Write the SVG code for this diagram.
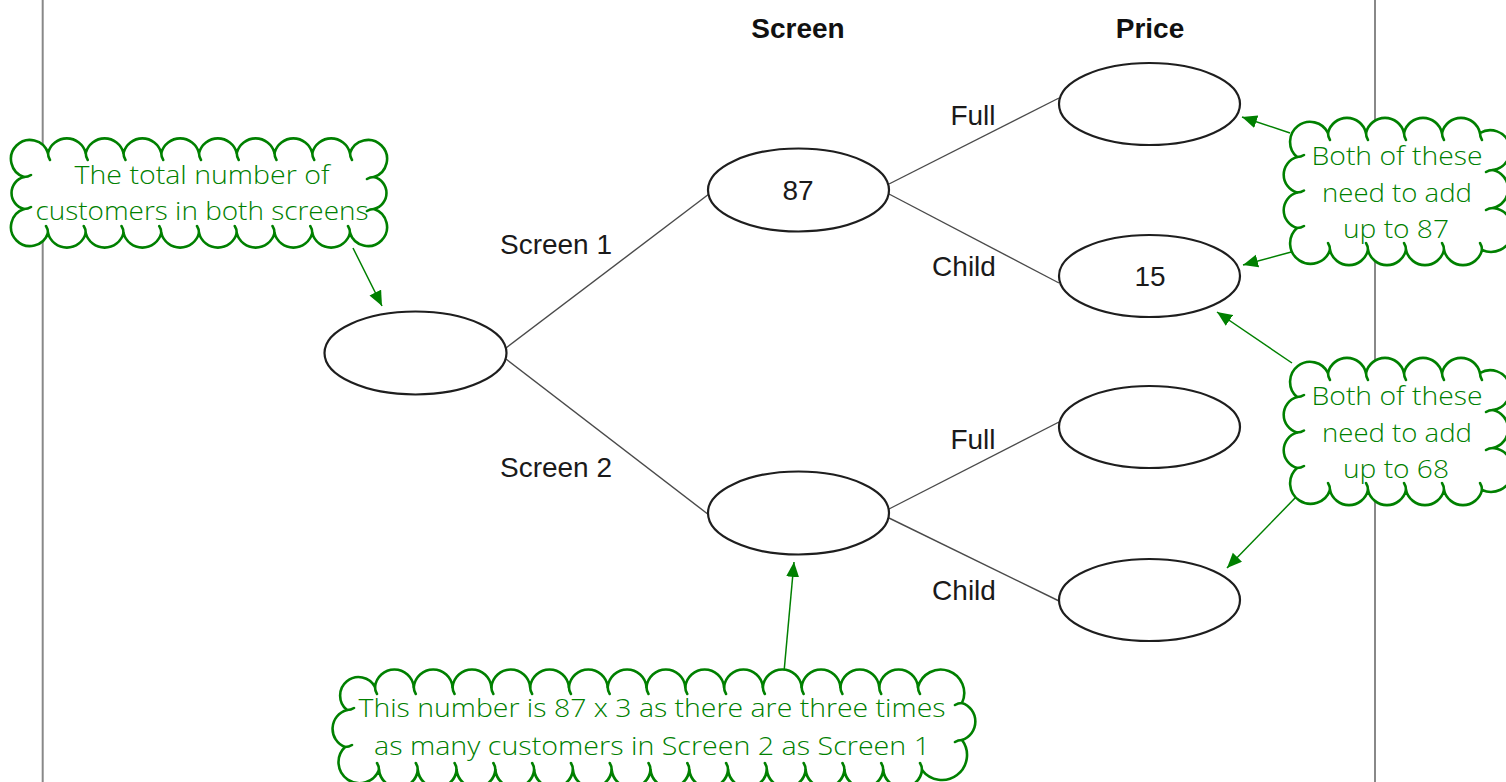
<svg xmlns="http://www.w3.org/2000/svg" width="1506" height="782" viewBox="0 0 1506 782">
<style>
.node{fill:#fff;stroke:#1e1e1e;stroke-width:2.2}
.edge{stroke:#4a4a4a;stroke-width:1.4;fill:none}
.lbl{font-family:"Liberation Sans",Arial,sans-serif;font-size:28px;fill:#1a1a1a;text-anchor:middle}
.hdr{font-family:"Liberation Sans",Arial,sans-serif;font-size:28px;font-weight:bold;fill:#111;text-anchor:middle}
.cloud{fill:#fff;stroke:#008000;stroke-width:2.6;stroke-linejoin:round}
.tail{fill:none;stroke:#008000;stroke-width:2.6;stroke-linecap:round}
.ctext{font-family:"Open Sans",Lato,sans-serif;font-weight:300;font-size:26px;fill:#008000;text-anchor:middle}
.arrow{stroke:#008000;stroke-width:1.5;fill:none;marker-end:url(#ah)}
.frame{stroke:#888;stroke-width:2}
</style>
<defs>
<marker id="ah" markerUnits="userSpaceOnUse" markerWidth="16" markerHeight="14" refX="15" refY="6.5" orient="auto">
<path d="M0,0 L15,6.5 L0,13 z" fill="#008000"/>
</marker>
</defs>
<rect width="1506" height="782" fill="#fff"/>
<g id="frame">
<line class="frame" x1="42.7" y1="0" x2="42.7" y2="782"/>
<line class="frame" x1="1375" y1="0" x2="1375" y2="782"/>
</g>
<g id="connectors">
<line class="edge" x1="506" y1="348" x2="709" y2="194"/>
<line class="edge" x1="506" y1="359" x2="709" y2="515"/>
<line class="edge" x1="889" y1="184" x2="1059" y2="98"/>
<line class="edge" x1="889" y1="194" x2="1059" y2="283"/>
<line class="edge" x1="889" y1="509" x2="1059" y2="422"/>
<line class="edge" x1="889" y1="518" x2="1059" y2="601"/>
<line class="arrow" x1="353" y1="248" x2="382" y2="306"/>
<line class="arrow" x1="1290" y1="133" x2="1242" y2="117"/>
<line class="arrow" x1="1295" y1="251" x2="1243" y2="265"/>
<line class="arrow" x1="1292" y1="363" x2="1217" y2="312"/>
<line class="arrow" x1="1297" y1="496" x2="1227" y2="568"/>
<line class="arrow" x1="784" y1="672" x2="794" y2="562"/>
</g>
<g id="edge-labels">
<text class="lbl" x="556" y="254">Screen 1</text>
<text class="lbl" x="556" y="477">Screen 2</text>
<text class="lbl" x="973" y="125">Full</text>
<text class="lbl" x="964" y="276">Child</text>
<text class="lbl" x="973" y="449">Full</text>
<text class="lbl" x="964" y="600">Child</text>
</g>
<g id="headers">
<text class="hdr" x="798" y="38">Screen</text>
<text class="hdr" x="1150" y="38">Price</text>
</g>
<g id="node-root"><ellipse class="node" cx="415.5" cy="353" rx="91" ry="41.5"/></g>
<g id="node-screen1"><ellipse class="node" cx="798.5" cy="190" rx="90.5" ry="41.5"/><text class="lbl" x="798" y="200">87</text></g>
<g id="node-screen2"><ellipse class="node" cx="798.5" cy="513" rx="90.5" ry="41.5"/></g>
<g id="node-full1"><ellipse class="node" cx="1149.5" cy="104" rx="90.5" ry="41"/></g>
<g id="node-child1"><ellipse class="node" cx="1149.5" cy="276" rx="90.5" ry="41"/><text class="lbl" x="1150" y="286">15</text></g>
<g id="node-full2"><ellipse class="node" cx="1149.5" cy="427" rx="90.5" ry="41"/></g>
<g id="node-child2"><ellipse class="node" cx="1149.5" cy="600" rx="90.5" ry="41"/></g>
<g id="cloud-total">
<path class="cloud" d="M48,153 a19.5 19.5 0 0 1 37.75 0 a19.5 19.5 0 0 1 37.75 0 a19.5 19.5 0 0 1 37.75 0 a19.5 19.5 0 0 1 37.75 0 a19.5 19.5 0 0 1 37.75 0 a19.5 19.5 0 0 1 37.75 0 a19.5 19.5 0 0 1 37.75 0 a19.5 19.5 0 0 1 37.75 0 a19 19 0 1 1 24 24 a16.5 16.5 0 0 1 0 32 a19 19 0 1 1 -24 24 a19.5 19.5 0 0 1 -37.75 0 a19.5 19.5 0 0 1 -37.75 0 a19.5 19.5 0 0 1 -37.75 0 a19.5 19.5 0 0 1 -37.75 0 a19.5 19.5 0 0 1 -37.75 0 a19.5 19.5 0 0 1 -37.75 0 a19.5 19.5 0 0 1 -37.75 0 a19.5 19.5 0 0 1 -37.75 0 a19 19 0 1 1 -24 -24 a16.5 16.5 0 0 1 0 -32 a19 19 0 1 1 24 -24 z"/>
<path class="tail" d="M48,153 q0 4 2 7 M85.75,153 q0 4 2 7 M123.5,153 q0 4 2 7 M161.25,153 q0 4 2 7 M199,153 q0 4 2 7 M236.75,153 q0 4 2 7 M274.5,153 q0 4 2 7 M312.25,153 q0 4 2 7 M350,153 q0 4 2 7 M374,177 q-4 0 -7 2 M374,209 q-4 0 -7 2 M350,233 q0 -4 -2 -7 M312.25,233 q0 -4 -2 -7 M274.5,233 q0 -4 -2 -7 M236.75,233 q0 -4 -2 -7 M199,233 q0 -4 -2 -7 M161.25,233 q0 -4 -2 -7 M123.5,233 q0 -4 -2 -7 M85.75,233 q0 -4 -2 -7 M48,233 q0 -4 -2 -7 M24,209 q4 0 7 -2 M24,177 q4 0 7 -2"/>
<text class="ctext" x="202" y="184" textLength="255" lengthAdjust="spacingAndGlyphs">The total number of</text>
<text class="ctext" x="202" y="220" textLength="333" lengthAdjust="spacingAndGlyphs">customers in both screens</text>
</g>
<g id="cloud-87">
<path class="cloud" d="M1328,133 a19.5 19.5 0 0 1 38 0 a19.5 19.5 0 0 1 38 0 a19.5 19.5 0 0 1 38 0 a19.5 19.5 0 0 1 38 0 a20 20 0 1 1 13 37 a19.5 19.5 0 0 1 0 38 a22 22 0 1 1 -11 42 a19.5 19.5 0 0 1 -38 0 a19.5 19.5 0 0 1 -38 0 a19.5 19.5 0 0 1 -38 0 a19.5 19.5 0 0 1 -38 0 a20.5 20.5 0 1 1 -33 -22 a18.5 18.5 0 0 1 0 -35.5 a18.5 18.5 0 0 1 0 -35.5 a20 20 0 1 1 31 -24 z"/>
<path class="tail" d="M1328,133 q0 4 2 7 M1366,133 q0 4 2 7 M1404,133 q0 4 2 7 M1442,133 q0 4 2 7 M1480,133 q0 4 2 7 M1493,170 q-4 0 -7 2 M1493,208 q-4 0 -7 2 M1482,250 q0 -4 -2 -7 M1444,250 q0 -4 -2 -7 M1406,250 q0 -4 -2 -7 M1368,250 q0 -4 -2 -7 M1330,250 q0 -4 -2 -7 M1297,228 q4 0 7 -2 M1297,192.5 q4 0 7 -2 M1297,157 q4 0 7 -2"/>
<text class="ctext" x="1397" y="165" textLength="171" lengthAdjust="spacingAndGlyphs">Both of these</text>
<text class="ctext" x="1397" y="202" textLength="150" lengthAdjust="spacingAndGlyphs">need to add</text>
<text class="ctext" x="1396" y="238" textLength="106" lengthAdjust="spacingAndGlyphs">up to 87</text>
</g>
<g id="cloud-68" transform="translate(0,240)">
<path class="cloud" d="M1328,133 a19.5 19.5 0 0 1 38 0 a19.5 19.5 0 0 1 38 0 a19.5 19.5 0 0 1 38 0 a19.5 19.5 0 0 1 38 0 a20 20 0 1 1 13 37 a19.5 19.5 0 0 1 0 38 a22 22 0 1 1 -11 42 a19.5 19.5 0 0 1 -38 0 a19.5 19.5 0 0 1 -38 0 a19.5 19.5 0 0 1 -38 0 a19.5 19.5 0 0 1 -38 0 a20.5 20.5 0 1 1 -33 -22 a18.5 18.5 0 0 1 0 -35.5 a18.5 18.5 0 0 1 0 -35.5 a20 20 0 1 1 31 -24 z"/>
<path class="tail" d="M1328,133 q0 4 2 7 M1366,133 q0 4 2 7 M1404,133 q0 4 2 7 M1442,133 q0 4 2 7 M1480,133 q0 4 2 7 M1493,170 q-4 0 -7 2 M1493,208 q-4 0 -7 2 M1482,250 q0 -4 -2 -7 M1444,250 q0 -4 -2 -7 M1406,250 q0 -4 -2 -7 M1368,250 q0 -4 -2 -7 M1330,250 q0 -4 -2 -7 M1297,228 q4 0 7 -2 M1297,192.5 q4 0 7 -2 M1297,157 q4 0 7 -2"/>
<text class="ctext" x="1397" y="165" textLength="171" lengthAdjust="spacingAndGlyphs">Both of these</text>
<text class="ctext" x="1397" y="202" textLength="150" lengthAdjust="spacingAndGlyphs">need to add</text>
<text class="ctext" x="1396" y="238" textLength="106" lengthAdjust="spacingAndGlyphs">up to 68</text>
</g>
<g id="cloud-screen2">
<path class="cloud" d="M375,687 a19.5 19.5 0 0 1 38.786 0 a19.5 19.5 0 0 1 38.786 0 a19.5 19.5 0 0 1 38.786 0 a19.5 19.5 0 0 1 38.786 0 a19.5 19.5 0 0 1 38.786 0 a19.5 19.5 0 0 1 38.786 0 a19.5 19.5 0 0 1 38.786 0 a19.5 19.5 0 0 1 38.786 0 a19.5 19.5 0 0 1 38.786 0 a19.5 19.5 0 0 1 38.786 0 a19.5 19.5 0 0 1 38.786 0 a19.5 19.5 0 0 1 38.786 0 a19.5 19.5 0 0 1 38.786 0 a19.5 19.5 0 0 1 38.786 0 a23.5 23.5 0 1 1 44 16 a19.5 19.5 0 0 1 0 37 a25 25 0 1 1 -40 30 a19.5 19.5 0 0 1 -38.786 0 a19.5 19.5 0 0 1 -38.786 0 a19.5 19.5 0 0 1 -38.786 0 a19.5 19.5 0 0 1 -38.786 0 a19.5 19.5 0 0 1 -38.786 0 a19.5 19.5 0 0 1 -38.786 0 a19.5 19.5 0 0 1 -38.786 0 a19.5 19.5 0 0 1 -38.786 0 a19.5 19.5 0 0 1 -38.786 0 a19.5 19.5 0 0 1 -38.786 0 a19.5 19.5 0 0 1 -38.786 0 a19.5 19.5 0 0 1 -38.786 0 a19.5 19.5 0 0 1 -38.786 0 a19.5 19.5 0 0 1 -38.786 0 a21 21 0 1 1 -34 -23 a19.5 19.5 0 0 1 2 -37 a18.5 18.5 0 1 1 28 -23 z"/>
<path class="tail" d="M375,687 q0 4 2 7 M413.79,687 q0 4 2 7 M452.57,687 q0 4 2 7 M491.36,687 q0 4 2 7 M530.14,687 q0 4 2 7 M568.93,687 q0 4 2 7 M607.71,687 q0 4 2 7 M646.5,687 q0 4 2 7 M685.29,687 q0 4 2 7 M724.07,687 q0 4 2 7 M762.86,687 q0 4 2 7 M801.64,687 q0 4 2 7 M840.43,687 q0 4 2 7 M879.21,687 q0 4 2 7 M918,687 q0 4 2 7 M962,703 q-4 0 -7 2 M962,740 q-4 0 -7 2 M922,770 q0 -4 -2 -7 M883.21,770 q0 -4 -2 -7 M844.43,770 q0 -4 -2 -7 M805.64,770 q0 -4 -2 -7 M766.86,770 q0 -4 -2 -7 M728.07,770 q0 -4 -2 -7 M689.29,770 q0 -4 -2 -7 M650.5,770 q0 -4 -2 -7 M611.71,770 q0 -4 -2 -7 M572.93,770 q0 -4 -2 -7 M534.14,770 q0 -4 -2 -7 M495.36,770 q0 -4 -2 -7 M456.57,770 q0 -4 -2 -7 M417.79,770 q0 -4 -2 -7 M379,770 q0 -4 -2 -7 M345,747 q4 0 7 -2 M347,710 q4 0 7 -2"/>
<text class="ctext" x="652" y="717" textLength="587" lengthAdjust="spacingAndGlyphs">This number is 87 x 3 as there are three times</text>
<text class="ctext" x="652" y="755" textLength="556" lengthAdjust="spacingAndGlyphs">as many customers in Screen 2 as Screen 1</text>
</g>
</svg>
